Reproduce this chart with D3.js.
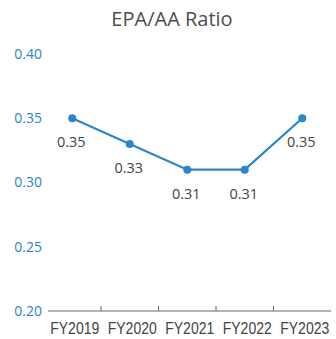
<!DOCTYPE html>
<html>
<head>
<meta charset="utf-8">
<script src="https://cdn.jsdelivr.net/npm/d3@7"></script>
<style>
  html, body { margin: 0; padding: 0; background: #fff; }
  svg { display: block; }
</style>
</head>
<body>
<svg id="chart" width="336" height="339"></svg>
<script>
// EPA/AA ratio by fiscal year
const years = ["FY2019", "FY2020", "FY2021", "FY2022", "FY2023"];
const ratios = [0.35, 0.33, 0.31, 0.31, 0.35];
const yTicks = [0.20, 0.25, 0.30, 0.35, 0.40];

const svg = d3.select("#chart");
const blue = "#2a85c9";
const mainFont = "'Open Sans', 'Noto Sans', sans-serif";

const x = d3.scaleBand().domain(years).range([43.5, 331]);
const y = d3.scaleLinear().domain([0.20, 0.40]).range([311, 54]);

// Title
svg.append("text")
  .attr("x", 172).attr("y", 26)
  .attr("text-anchor", "middle")
  .attr("font-family", mainFont)
  .attr("font-size", 20)
  .attr("fill", "#4d4d4d")
  .text("EPA/AA Ratio");

// Y axis labels (no axis line)
svg.append("g").selectAll("text")
  .data(yTicks)
  .join("text")
  .attr("x", 42)
  .attr("y", d => y(d))
  .attr("dy", "0.35em")
  .attr("text-anchor", "end")
  .attr("font-family", mainFont)
  .attr("font-size", 14)
  .attr("fill", blue)
  .text(d => d.toFixed(2));

// X axis: baseline, ticks between categories, condensed labels
const xAxis = svg.append("g");
xAxis.append("line")
  .attr("x1", 48).attr("x2", 331)
  .attr("y1", y(0.20)).attr("y2", y(0.20))
  .attr("stroke", "#666").attr("stroke-width", 1);
xAxis.selectAll("line.tick")
  .data(years.slice(1))
  .join("line")
  .attr("class", "tick")
  .attr("x1", d => x(d)).attr("x2", d => x(d))
  .attr("y1", y(0.20) - 5).attr("y2", y(0.20))
  .attr("stroke", "#666").attr("stroke-width", 1);
xAxis.selectAll("text")
  .data(years)
  .join("text")
  .attr("transform", d => `translate(${x(d) + x.bandwidth() / 2 + 2.5},334) scale(0.85,1)`)
  .attr("text-anchor", "middle")
  .attr("font-family", "'Liberation Sans', Arial, sans-serif")
  .attr("font-size", 16.5)
  .attr("fill", "#444")
  .text(d => d);

const cx = (d, i) => x(years[i]) + x.bandwidth() / 2;

// Line
const line = d3.line()
  .x((d, i) => cx(d, i))
  .y(d => y(d));
svg.append("path")
  .datum(ratios)
  .attr("d", line)
  .attr("fill", "none")
  .attr("stroke", blue)
  .attr("stroke-width", 2.2);

// Points
svg.append("g").selectAll("circle")
  .data(ratios)
  .join("circle")
  .attr("cx", (d, i) => cx(d, i))
  .attr("cy", d => y(d))
  .attr("r", 4)
  .attr("fill", blue);

// Value labels
svg.append("g").selectAll("text")
  .data(ratios)
  .join("text")
  .attr("x", (d, i) => cx(d, i) - 1)
  .attr("y", d => y(d) + 24)
  .attr("dy", "0.35em")
  .attr("text-anchor", "middle")
  .attr("font-family", mainFont)
  .attr("font-size", 14.5)
  .attr("fill", "#444")
  .text(d => d.toFixed(2));
</script>
</body>
</html>
